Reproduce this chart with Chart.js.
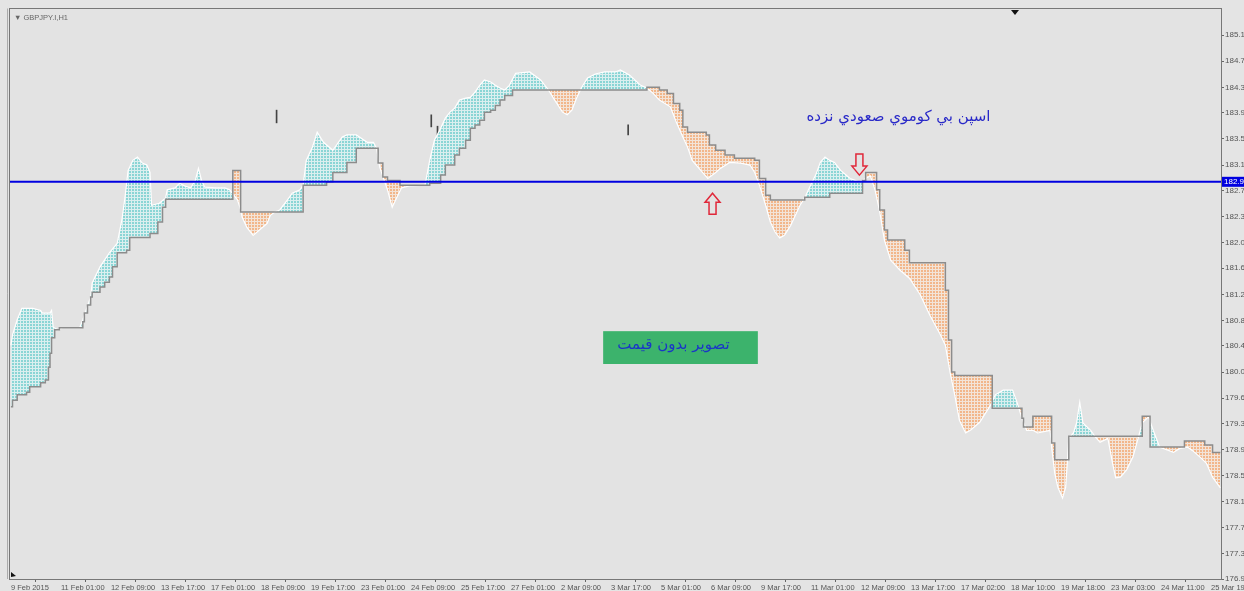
<!DOCTYPE html>
<html>
<head>
<meta charset="utf-8">
<script src="https://cdn.jsdelivr.net/npm/chart.js@4.4.1/dist/chart.umd.min.js"></script>
<style>
  html, body { margin: 0; padding: 0; background: #e4e4e4; }
  #wrap { width: 1244px; height: 591px; position: relative; }
</style>
</head>
<body>
<div id="wrap"><canvas id="kumo"></canvas></div>
<script>
// GBPJPY H1 – ichimoku cloud only (Senkou Span A / B), price bars hidden

const symbolLabel = '▼ GBPJPY.I,H1';

// x axis: bar index (H1 bars), one label every 32 bars
const xTickBars = [0, 32, 64, 96, 128, 160, 192, 224, 256, 288, 320, 352, 384,
  416, 448, 480, 512, 544, 576, 608, 640, 672, 704, 736, 768];
const xTickLabels = ['9 Feb 2015', '11 Feb 01:00', '12 Feb 09:00', '13 Feb 17:00',
  '17 Feb 01:00', '18 Feb 09:00', '19 Feb 17:00', '23 Feb 01:00', '24 Feb 09:00',
  '25 Feb 17:00', '27 Feb 01:00', '2 Mar 09:00', '3 Mar 17:00', '5 Mar 01:00',
  '6 Mar 09:00', '9 Mar 17:00', '11 Mar 01:00', '12 Mar 09:00', '13 Mar 17:00',
  '17 Mar 02:00', '18 Mar 10:00', '19 Mar 18:00', '23 Mar 03:00', '24 Mar 11:00',
  '25 Mar 19:00'];

const yTickLabels = ['176.98', '177.36', '177.75', '178.14', '178.52', '178.91',
  '179.30', '179.68', '180.07', '180.46', '180.84', '181.23', '181.62', '182.00',
  '182.39', '182.78', '183.16', '183.55', '183.94', '184.32', '184.71', '185.10'];

// Senkou Span A (white edge)
const spanABars = [0, 1, 4, 7, 14, 19, 20, 25, 26, 27, 30, 33, 44, 46, 48, 51, 52, 57,
  63, 68, 71, 73, 75, 78, 81, 84, 87, 89, 90, 95, 99, 100, 105, 108, 111, 115, 118,
  120, 122, 124, 131, 137, 140, 145, 147, 148, 151, 155, 159, 164, 166, 169, 172,
  177, 180, 185, 187, 189, 193, 196, 200, 206, 212, 215, 221, 228, 232, 234, 236,
  241, 244, 247, 250, 255, 265, 268, 271, 275, 278, 281, 284, 287, 291, 294, 297,
  300, 303, 307, 310, 313, 316, 319, 323, 332, 339, 344, 348, 353, 356, 359, 362,
  365, 369, 374, 380, 387, 390, 396, 403, 407, 411, 415, 422, 426, 430, 433, 436,
  443, 446, 451, 454, 460, 467, 473, 476, 479, 483, 486, 489, 492, 495, 499, 502,
  505, 508, 511, 515, 518, 521, 524, 527, 531, 537, 543, 547, 550, 553, 556, 559,
  563, 569, 575, 582, 588, 595, 598, 601, 604, 607, 611, 614, 620, 627, 630, 635,
  641, 644, 647, 650, 654, 657, 665, 666, 668, 670, 673, 675, 676, 677, 680, 682,
  684, 686, 691, 694, 697, 702, 705, 707, 710, 714, 718, 721, 724, 728, 731, 734,
  735, 744, 748, 753, 756, 761, 765, 769, 774];
const spanAValues = [180.47, 180.62, 180.85, 181.02, 181.02, 180.99, 180.95, 180.95,
  180.99, 180.74, 180.70, 180.73, 180.73, 180.85, 180.99, 181.19, 181.40, 181.64,
  181.85, 181.99, 182.34, 182.68, 183.08, 183.23, 183.28, 183.19, 183.16, 183.05,
  182.56, 182.59, 182.67, 182.79, 182.82, 182.89, 182.85, 182.82, 182.93, 183.11,
  182.93, 182.83, 182.82, 182.82, 182.79, 182.64, 182.49, 182.38, 182.23, 182.11,
  182.19, 182.29, 182.41, 182.46, 182.49, 182.64, 182.74, 182.79, 182.86, 183.23,
  183.43, 183.65, 183.50, 183.38, 183.58, 183.61, 183.61, 183.50, 183.50, 183.41,
  183.13, 182.79, 182.53, 182.68, 182.82, 182.85, 182.86, 183.23, 183.53, 183.71,
  183.86, 183.95, 184.01, 184.13, 184.16, 184.17, 184.25, 184.35, 184.43, 184.40,
  184.35, 184.31, 184.28, 184.35, 184.53, 184.55, 184.43, 184.28, 184.13, 183.95,
  183.91, 183.98, 184.16, 184.31, 184.46, 184.52, 184.55, 184.55, 184.58, 184.50,
  184.35, 184.31, 184.23, 184.13, 184.03, 183.79, 183.58, 183.43, 183.23, 183.04,
  182.96, 183.05, 183.11, 183.20, 183.19, 183.16, 183.05, 182.86, 182.56, 182.31,
  182.16, 182.07, 182.11, 182.26, 182.41, 182.56, 182.67, 182.82, 183.01, 183.20,
  183.28, 183.23, 183.20, 183.08, 182.96, 182.91, 182.96, 183.00, 182.79, 182.46,
  182.04, 181.74, 181.59, 181.47, 181.22, 180.92, 180.62, 180.47, 180.07, 179.73,
  179.35, 179.16, 179.20, 179.32, 179.58, 179.73, 179.80, 179.80, 179.61, 179.38,
  179.20, 179.20, 179.16, 179.20, 178.95, 178.56, 178.35, 178.19, 178.35, 178.71,
  179.08, 179.16, 179.31, 179.62, 179.31, 179.20, 179.10, 179.02, 179.08, 178.71,
  178.49, 178.50, 178.61, 178.80, 179.05, 179.31, 179.40, 179.20, 179.02, 178.95,
  178.87, 178.93, 178.95, 178.90, 178.80, 178.71, 178.50, 178.34];

// Senkou Span B (grey step line) – value changes at these bars
const spanBBars = [0, 1, 4, 10, 12, 19, 22, 24, 25, 26, 28, 31, 46, 47, 49, 51, 52,
  57, 60, 63, 65, 68, 74, 76, 89, 94, 97, 99, 142, 147, 187, 202, 206, 215, 221,
  235, 238, 241, 249, 268, 275, 278, 284, 287, 291, 294, 297, 300, 303, 307, 310,
  313, 316, 321, 407, 415, 420, 424, 428, 430, 433, 445, 447, 451, 457, 463, 476,
  479, 483, 486, 508, 524, 545, 547, 554, 556, 559, 561, 572, 575, 598, 600, 602,
  604, 628, 647, 648, 654, 666, 668, 677, 724, 729, 751, 764, 769, 774];
const spanBValues = [179.55, 179.65, 179.73, 179.77, 179.85, 179.91, 179.95, 180.14,
  180.35, 180.58, 180.70, 180.73, 180.82, 180.95, 181.07, 181.19, 181.26, 181.34,
  181.41, 181.49, 181.64, 181.85, 181.89, 182.08, 182.14, 182.31, 182.53, 182.65,
  183.08, 182.46, 182.86, 182.91, 183.05, 183.20, 183.41, 183.19, 182.98, 182.93,
  182.86, 182.89, 183.01, 183.16, 183.31, 183.41, 183.53, 183.71, 183.76, 183.83,
  183.95, 183.98, 184.05, 184.13, 184.20, 184.28, 184.32, 184.28, 184.23, 184.08,
  183.98, 183.73, 183.65, 183.61, 183.46, 183.38, 183.31, 183.26, 183.23, 182.96,
  182.71, 182.64, 182.68, 182.74, 182.93, 183.05, 182.79, 182.49, 182.19, 182.04,
  181.89, 181.70, 181.29, 180.55, 180.07, 180.02, 179.53, 179.38, 179.25, 179.41,
  179.01, 178.76, 179.11, 179.41, 178.95, 179.04, 178.98, 178.87, 178.87];

// short black vertical marks above the cloud
const markBars = [170, 269, 273, 395];
const markLows = [183.79, 183.73, 183.55, 183.61];
const markHighs = [183.98, 183.91, 183.74, 183.76];

const priceLevel = 182.91;
const priceLevelLabel = '182.91';

// annotations (data coordinates)
const upArrow = { bar: 449, price: 182.74 };
const downArrow = { bar: 543, price: 183.01 };
const caption = { bar: 568, price: 183.87, text: 'اسپن بي كوموي صعودي نزده' };
const noteBox = { bar0: 379, bar1: 478, hi: 180.68, lo: 180.19,
  textBar: 424, textPrice: 180.47, text: 'تصویر بدون قیمت' };

function dotPattern(fg, bg) {
  const c = document.createElement('canvas');
  c.width = 3; c.height = 3;
  const g = c.getContext('2d');
  g.fillStyle = bg; g.fillRect(0, 0, 3, 3);
  g.fillStyle = fg; g.fillRect(0, 0, 2, 2);
  return g.createPattern(c, 'repeat');
}
const cyanFill = dotPattern('#8ad5d5', '#dbefef');
const orangeFill = dotPattern('#f2b68a', '#f3e4d8');

function arrow(ctx, x, tipY, dir) {
  // dir = -1 points up, 1 points down
  const head = 9, half = 7.5, shaft = 3.5, len = 21;
  const b = tipY - dir * head, e = tipY - dir * len;
  ctx.beginPath();
  ctx.moveTo(x, tipY);
  ctx.lineTo(x + half, b);
  ctx.lineTo(x + shaft, b);
  ctx.lineTo(x + shaft, e);
  ctx.lineTo(x - shaft, e);
  ctx.lineTo(x - shaft, b);
  ctx.lineTo(x - half, b);
  ctx.closePath();
  ctx.stroke();
}

const chartDecor = {
  id: 'chartDecor',
  beforeDraw(chart) {
    const { ctx, chartArea: a } = chart;
    ctx.save();
    ctx.fillStyle = '#e4e4e4';
    ctx.fillRect(0, 0, chart.width, chart.height);
    ctx.fillStyle = '#e3e3e3';
    ctx.fillRect(a.left, a.top, a.width, a.height);
    ctx.restore();
  },
  afterDraw(chart) {
    const { ctx, chartArea: a, scales: { x, y } } = chart;
    ctx.save();
    // frame
    ctx.strokeStyle = '#777';
    ctx.lineWidth = 1;
    ctx.strokeRect(a.left - 0.5, a.top - 0.5, a.width + 1, a.height + 1);
    ctx.strokeStyle = '#aaa';
    ctx.beginPath();
    ctx.moveTo(a.left - 2.5, a.top - 0.5);
    ctx.lineTo(a.left - 2.5, a.bottom);
    ctx.stroke();

    // symbol label
    ctx.fillStyle = '#666';
    ctx.font = '7.5px "Liberation Sans"';
    ctx.textBaseline = 'middle';
    ctx.textAlign = 'left';
    ctx.fillText(symbolLabel, a.left + 4, a.top + 9);

    // shift marker at top, corner marker at bottom-left
    ctx.fillStyle = '#111';
    ctx.beginPath();
    ctx.moveTo(1011, a.top + 1); ctx.lineTo(1019, a.top + 1); ctx.lineTo(1015, a.top + 6);
    ctx.closePath(); ctx.fill();
    ctx.beginPath();
    ctx.moveTo(a.left + 1, a.bottom - 7); ctx.lineTo(a.left + 6, a.bottom - 3); ctx.lineTo(a.left + 1, a.bottom - 2);
    ctx.closePath(); ctx.fill();

    // price level label on axis
    const py = y.getPixelForValue(priceLevel);
    ctx.fillStyle = '#0000e0';
    ctx.fillRect(a.right + 1, py - 5, 30, 10);
    ctx.fillStyle = '#fff';
    ctx.font = '8px "Liberation Sans"';
    ctx.fillText(priceLevelLabel, a.right + 3, py);

    // arrows
    ctx.strokeStyle = '#e0283a';
    ctx.lineWidth = 1.5;
    arrow(ctx, x.getPixelForValue(upArrow.bar), y.getPixelForValue(upArrow.price), -1);
    arrow(ctx, x.getPixelForValue(downArrow.bar), y.getPixelForValue(downArrow.price), 1);

    // caption
    ctx.fillStyle = '#2828c8';
    ctx.font = '15px "DejaVu Sans"';
    ctx.textAlign = 'center';
    ctx.fillText(caption.text, x.getPixelForValue(caption.bar), y.getPixelForValue(caption.price));

    // green note box
    const bx0 = x.getPixelForValue(noteBox.bar0), bx1 = x.getPixelForValue(noteBox.bar1);
    const by0 = y.getPixelForValue(noteBox.hi), by1 = y.getPixelForValue(noteBox.lo);
    ctx.fillStyle = '#3cb36c';
    ctx.fillRect(bx0, by0, bx1 - bx0, by1 - by0);
    ctx.fillStyle = '#1a35c8';
    ctx.font = '15px "DejaVu Sans"';
    ctx.fillText(noteBox.text, x.getPixelForValue(noteBox.textBar), y.getPixelForValue(noteBox.textPrice));
    ctx.restore();
  }
};

const ctx = document.getElementById('kumo').getContext('2d');
new Chart(ctx, {
  type: 'line',
  data: {
    datasets: [
      {
        label: 'Senkou Span A',
        data: spanABars.map((b, i) => ({ x: b, y: spanAValues[i] })),
        borderColor: '#ffffff',
        borderWidth: 1.2,
        pointRadius: 0,
        tension: 0,
        fill: { target: 1, above: cyanFill, below: orangeFill },
        order: 2
      },
      {
        label: 'Senkou Span B',
        data: spanBBars.map((b, i) => ({ x: b, y: spanBValues[i] })),
        borderColor: '#8c8c8c',
        borderWidth: 1.5,
        pointRadius: 0,
        stepped: true,
        fill: false,
        order: 1
      },
      {
        label: 'Level',
        data: [{ x: -0.6, y: priceLevel }, { x: 774.4, y: priceLevel }],
        borderColor: '#0000e0',
        borderWidth: 2,
        pointRadius: 0,
        fill: false,
        order: 0
      },
      {
        type: 'bar',
        label: 'Marks',
        data: markBars.map((b, i) => ({ x: b, y: [markLows[i], markHighs[i]] })),
        backgroundColor: '#444',
        barThickness: 1,
        order: 3
      }
    ]
  },
  options: {
    responsive: true,
    maintainAspectRatio: false,
    animation: false,
    layout: { padding: { left: 10, top: 9, right: 0, bottom: 0 } },
    plugins: { legend: { display: false }, tooltip: { enabled: false } },
    scales: {
      x: {
        type: 'linear',
        min: -0.6,
        max: 774.4,
        offset: false,
        afterBuildTicks: (s) => { s.ticks = xTickBars.map(v => ({ value: v })); },
        afterFit: (s) => { s.height = 12; s.paddingLeft = 0; s.paddingRight = 0; },
        ticks: {
          autoSkip: false, maxRotation: 0, minRotation: 0, align: 'start', padding: 1,
          color: '#555', font: { family: 'Liberation Sans', size: 7.5 },
          callback: (v, i) => xTickLabels[i]
        },
        grid: { drawOnChartArea: false, tickLength: 3, color: '#666' },
        border: { display: false }
      },
      y: {
        type: 'linear',
        position: 'right',
        min: 176.98,
        max: 185.49,
        afterBuildTicks: (s) => { s.ticks = yTickLabels.map(t => ({ value: parseFloat(t) })); },
        afterFit: (s) => { s.width = 23; s.paddingTop = 0; s.paddingBottom = 0; },
        ticks: {
          autoSkip: false, padding: 1,
          color: '#555', font: { family: 'Liberation Sans', size: 8 },
          callback: (v, i) => yTickLabels[i]
        },
        grid: { drawOnChartArea: false, tickLength: 3, color: '#666' },
        border: { display: false }
      }
    }
  },
  plugins: [chartDecor]
});
</script>
</body>
</html>
